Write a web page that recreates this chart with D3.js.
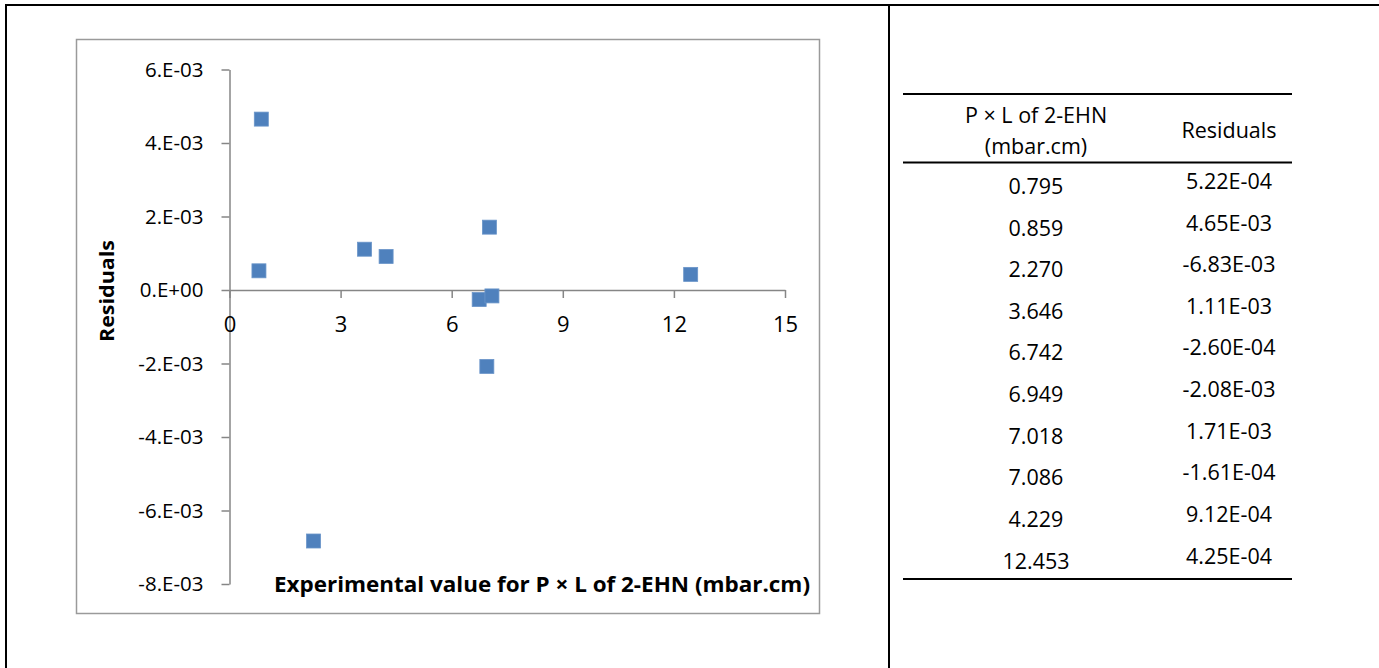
<!DOCTYPE html>
<html>
<head>
<meta charset="utf-8">
<script src="https://cdn.jsdelivr.net/npm/d3@7"></script>
<style>
  html, body { margin: 0; padding: 0; background: #fff; }
  svg { display: block; }
  text { font-family: "Open Sans", "Noto Sans", sans-serif; fill: #000; }
</style>
</head>
<body>
<svg id="chart" width="1379" height="668"></svg>
<script>
// ---- data ----
const pressureLabels = ["0.795", "0.859", "2.270", "3.646", "6.742", "6.949", "7.018", "7.086", "4.229", "12.453"];
const residualLabels = ["5.22E-04", "4.65E-03", "-6.83E-03", "1.11E-03", "-2.60E-04", "-2.08E-03", "1.71E-03", "-1.61E-04", "9.12E-04", "4.25E-04"];
const xTicks = [0, 3, 6, 9, 12, 15];
const yTicks = [-0.008, -0.006, -0.004, -0.002, 0, 0.002, 0.004, 0.006];
const yTickLabels = ["-8.E-03", "-6.E-03", "-4.E-03", "-2.E-03", "0.E+00", "2.E-03", "4.E-03", "6.E-03"];
const xTitle = "Experimental value for P × L of 2-EHN (mbar.cm)";
const yTitle = "Residuals";
const tableHeader1 = ["P × L of 2-EHN", "(mbar.cm)"];
const tableHeader2 = "Residuals";

const pressure = pressureLabels.map(Number);
const residuals = residualLabels.map(Number);
const points = pressure.map((p, i) => ({ x: p, y: residuals[i] }));

const svg = d3.select("#chart");

// ---- outer frame ----
svg.append("line").attr("x1", 5).attr("x2", 1379).attr("y1", 5).attr("y2", 5)
  .attr("stroke", "#000").attr("stroke-width", 2);
svg.append("line").attr("x1", 6).attr("x2", 6).attr("y1", 4).attr("y2", 668)
  .attr("stroke", "#000").attr("stroke-width", 2);
svg.append("line").attr("x1", 889).attr("x2", 889).attr("y1", 4).attr("y2", 668)
  .attr("stroke", "#000").attr("stroke-width", 2);

// ---- chart box ----
svg.append("rect").attr("x", 76.5).attr("y", 39.5).attr("width", 743).attr("height", 574)
  .attr("fill", "#fff").attr("stroke", "#9a9a9a").attr("stroke-width", 1.5);

const x = d3.scaleLinear().domain([0, 15]).range([229.5, 785]);
const y = d3.scaleLinear().domain([-0.008, 0.006]).range([584, 69.5]);

const axisColor = "#868686";

// y axis
const gy = svg.append("g").attr("transform", `translate(${x(0)},0)`)
  .call(d3.axisLeft(y).tickValues(yTicks).tickSize(8).tickSizeOuter(0).tickPadding(18)
    .tickFormat((d, i) => yTickLabels[i]));
gy.select(".domain").attr("stroke", axisColor).attr("stroke-width", 1.5);
gy.selectAll(".tick line").attr("stroke", axisColor).attr("stroke-width", 1.5);
gy.selectAll(".tick text").attr("font-size", 20.5).attr("font-family", "Open Sans").attr("fill", "#000");

// x axis at y = 0
const gx = svg.append("g").attr("transform", `translate(0,${y(0)})`)
  .call(d3.axisBottom(x).tickValues(xTicks).tickSize(8).tickSizeOuter(0).tickPadding(18)
    .tickFormat(d3.format("d")));
gx.select(".domain").attr("stroke", axisColor).attr("stroke-width", 1.5);
gx.selectAll(".tick line").attr("stroke", axisColor).attr("stroke-width", 1.5);
gx.selectAll(".tick text").attr("font-size", 22).attr("font-family", "Open Sans").attr("fill", "#000");

// points
const ms = 14;
svg.append("g").selectAll("rect").data(points).join("rect")
  .attr("x", d => x(d.x) - ms / 2)
  .attr("y", d => y(d.y) - ms / 2)
  .attr("width", ms).attr("height", ms)
  .attr("fill", "#4F81BD").attr("stroke", "#6a95c9").attr("stroke-width", 0.8);

// axis titles
svg.append("text").attr("x", 274).attr("y", 592)
  .attr("font-size", 21).attr("font-weight", "bold")
  .attr("textLength", 536).attr("lengthAdjust", "spacingAndGlyphs")
  .text(xTitle);
svg.append("text").attr("transform", "translate(114,291) rotate(-90)")
  .attr("text-anchor", "middle")
  .attr("font-size", 20).attr("font-weight", "bold")
  .attr("textLength", 102).attr("lengthAdjust", "spacingAndGlyphs")
  .text(yTitle);

// ---- table ----
const tL = 903, tR = 1292;
const col1 = 1036, col2 = 1229;
[94, 162.5, 579].forEach(yy => {
  svg.append("line").attr("x1", tL).attr("x2", tR).attr("y1", yy).attr("y2", yy)
    .attr("stroke", "#000").attr("stroke-width", 2);
});
const tfs = 21.5;
svg.append("text").attr("x", col1).attr("y", 123).attr("text-anchor", "middle").attr("font-size", tfs).text(tableHeader1[0]);
svg.append("text").attr("x", col1).attr("y", 154).attr("text-anchor", "middle").attr("font-size", tfs).text(tableHeader1[1]);
svg.append("text").attr("x", col2).attr("y", 138).attr("text-anchor", "middle").attr("font-size", tfs).text(tableHeader2);

const rowY = d3.scaleLinear().domain([0, 9]).range([194, 568.5]);
const rows = svg.append("g");
rows.selectAll("text.c1").data(pressureLabels).join("text").attr("class", "c1")
  .attr("x", col1).attr("y", (d, i) => rowY(i)).attr("text-anchor", "middle").attr("font-size", tfs)
  .text(d => d);
rows.selectAll("text.c2").data(residualLabels).join("text").attr("class", "c2")
  .attr("x", col2).attr("y", (d, i) => rowY(i) - 5).attr("text-anchor", "middle").attr("font-size", tfs)
  .text(d => d);
</script>
</body>
</html>
